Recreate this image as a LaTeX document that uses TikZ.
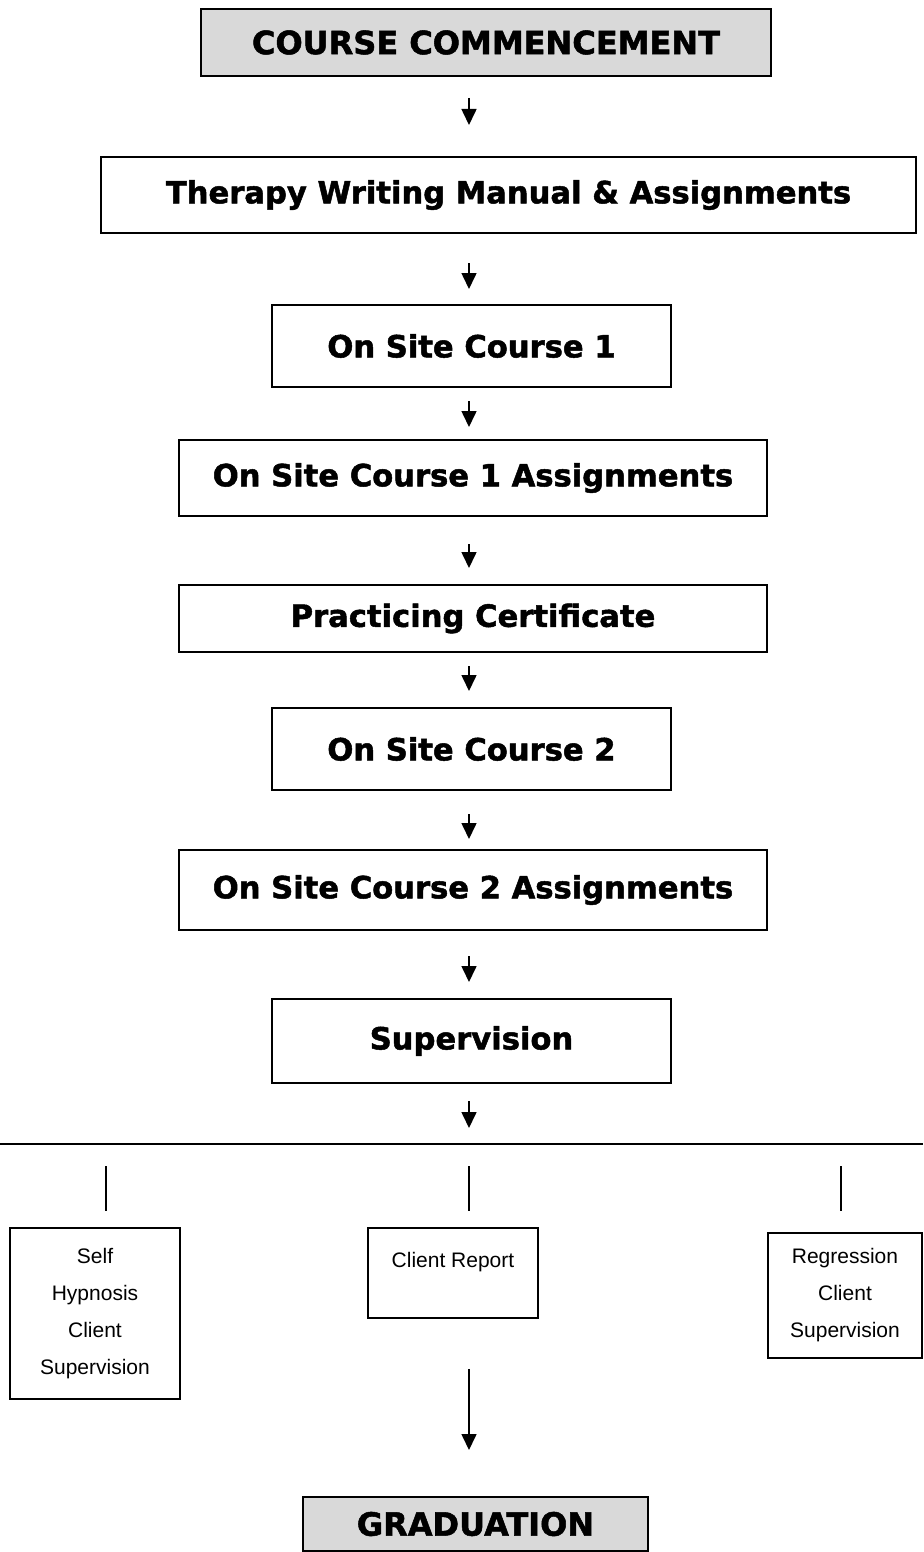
\documentclass[tikz,border=0pt]{standalone}
\usepackage{fontspec}
\setmainfont{Liberation Sans}
\newfontfamily\headfont[BoldFeatures={FakeBold=1.6}]{DejaVu Sans}
\usetikzlibrary{arrows.meta}
\definecolor{boxgray}{HTML}{D9D9D9}

\begin{document}
\begin{tikzpicture}[
 x=0.5pt,y=-0.5pt,
 stage/.style={draw,line width=1pt,inner sep=0pt,align=center,font=\headfont\bfseries\fontsize{15.3}{18}\selectfont},
 milestone/.style={stage,fill=boxgray,font=\headfont\bfseries\fontsize{16}{19}\selectfont},
 task/.style={draw,line width=0.8pt,inner sep=0pt,align=center,font=\fontsize{10.5}{18.5}\selectfont},
 arr/.style={-{Triangle[width=7.5pt,length=8pt]},line width=0.8pt},
 tick/.style={line width=0.8pt}
]
\useasboundingbox (0,0) rectangle (923,1552);
\coordinate (spine) at (469,0);

\node[milestone,minimum width=285pt,minimum height=33.5pt] (start) at (486,42.5) {COURSE COMMENCEMENT};
\node[stage,minimum width=407.5pt,minimum height=38pt] (manual) at (508.5,195) {Therapy Writing Manual \& Assignments};
\node[stage,minimum width=199.5pt,minimum height=41pt] (site1) at (471.5,346) {On Site Course 1};
\node[stage,minimum width=294pt,minimum height=38pt] (site1asg) at (473,478) {On Site Course 1 Assignments};
\node[stage,minimum width=294pt,minimum height=33.5pt] (cert) at (473,618.5) {Practicing Certificate};
\node[stage,minimum width=199.5pt,minimum height=41pt] (site2) at (471.5,749) {On Site Course 2};
\node[stage,minimum width=294pt,minimum height=40pt] (site2asg) at (473,890) {On Site Course 2 Assignments};
\node[stage,minimum width=199.5pt,minimum height=42pt] (superv) at (471.5,1041) {Supervision};

\coordinate (barL) at (0,1144);
\coordinate (barR) at (923,1144);
\coordinate (tickL) at (106,1166);
\coordinate (tickM) at (469,1166);
\coordinate (tickR) at (841,1166);

\node[task,minimum width=85pt,minimum height=85.5pt] (selfhyp) at (95,1313.5) {Self\\Hypnosis\\Client\\Supervision};
\node[task,minimum width=85pt,minimum height=45pt] (report) at (453,1273) {\\[-6pt]Client Report\\~};
\node[task,minimum width=77pt,minimum height=62.5pt] (regress) at (845,1295.5) {Regression\\Client\\Supervision};
\node[milestone,minimum width=172.5pt,minimum height=27pt] (grad) at (475.5,1524) {GRADUATION};

\draw[arr,shorten <=10.5pt,shorten >=15.5pt] (start.south -| spine)--(manual.north -| spine);
\draw[arr,shorten <=14.5pt,shorten >=7.5pt] (manual.south -| spine)--(site1.north -| spine);
\draw[arr,shorten <=6.5pt,shorten >=6pt] (site1.south -| spine)--(site1asg.north -| spine);
\draw[arr,shorten <=13.5pt,shorten >=8pt] (site1asg.south -| spine)--(cert.north -| spine);
\draw[arr,shorten <=6.5pt,shorten >=8pt] (cert.south -| spine)--(site2.north -| spine);
\draw[arr,shorten <=11.5pt,shorten >=5pt] (site2.south -| spine)--(site2asg.north -| spine);
\draw[arr,shorten <=12.5pt,shorten >=8pt] (site2asg.south -| spine)--(superv.north -| spine);
\draw[arr,shorten <=8.5pt,shorten >=8pt] (superv.south -| spine)--(spine |- barL);
\draw[line width=1.2pt] (barL)--(barR);
\draw[tick] (tickL)--++(0,45);
\draw[tick] (tickM)--++(0,45);
\draw[tick] (tickR)--++(0,45);
\draw[arr,shorten <=25pt,shorten >=23pt] (report.south -| spine)--(grad.north -| spine);
\end{tikzpicture}
\end{document}
